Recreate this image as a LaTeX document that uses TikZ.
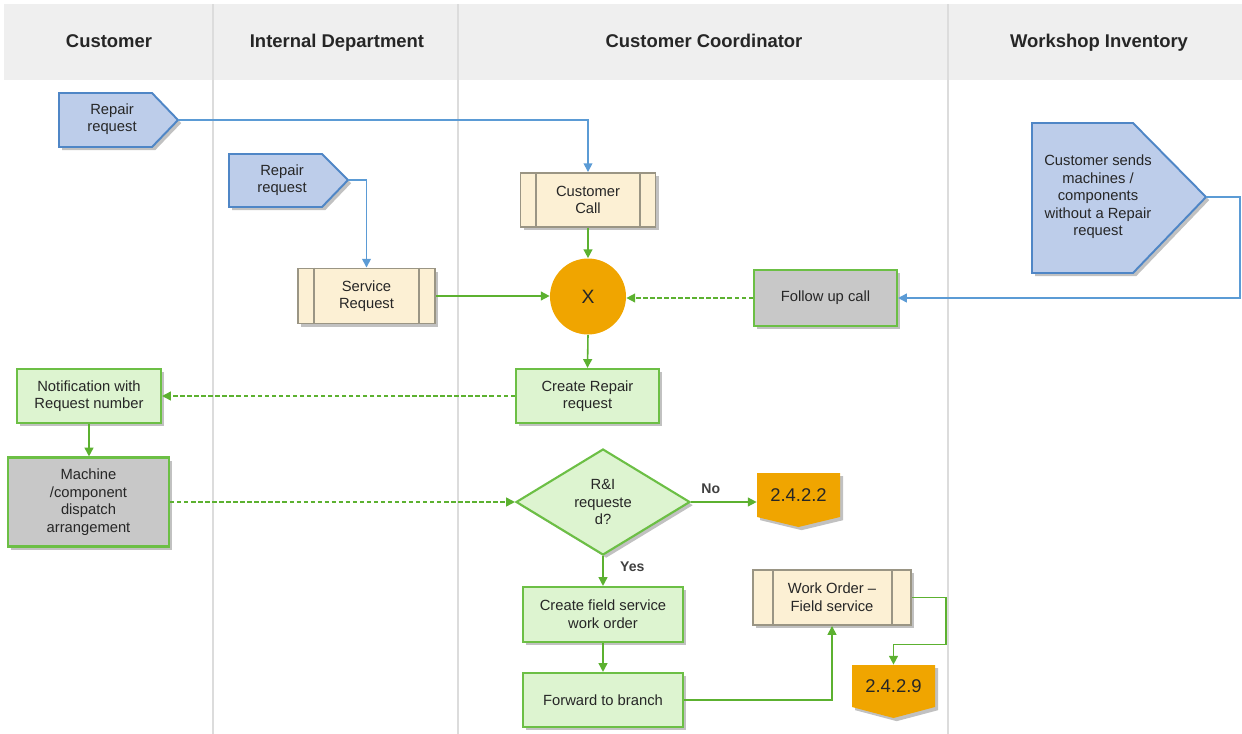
\documentclass[tikz,border=0pt]{standalone}
\usepackage{fontspec}
\setmainfont{Liberation Sans}
\usetikzlibrary{shapes.geometric,arrows.meta,shadows,calc}

\definecolor{hdr}{HTML}{EFEFEF}
\definecolor{lane}{HTML}{DCDCDC}
\definecolor{bfill}{HTML}{BDCDEA}
\definecolor{bline}{HTML}{4F86C6}
\definecolor{barrow}{HTML}{5B9BD5}
\definecolor{yfill}{HTML}{FCF0D4}
\definecolor{yline}{HTML}{9A9584}
\definecolor{gfill}{HTML}{DDF4D0}
\definecolor{gline}{HTML}{6CBF45}
\definecolor{garrow}{HTML}{5CB130}
\definecolor{grayfill}{HTML}{C8C8C8}
\definecolor{orng}{HTML}{F0A500}

\tikzset{
 shd/.style={drop shadow={shadow xshift=1.8pt, shadow yshift=-1.8pt, opacity=0.35, fill=black!70}},
 txt/.style={font=\fontsize{8.4}{10}\selectfont, align=center, text=black!85},
 gbox/.style={txt, draw=gline, line width=1.2pt, fill=gfill, shd, inner sep=0pt},
 graybox/.style={gbox, fill=grayfill},
 ybox/.style={txt, draw=yline, line width=1.1pt, fill=yfill, shd, inner sep=0pt},
 yinner/.style={draw=yline, line width=1.1pt},
 bshape/.style={draw=bline, line width=1.1pt, fill=bfill, shd},
 oshape/.style={fill=orng, shd},
 otxt/.style={font=\fontsize{10.5}{12}\selectfont, text=black!85, inner sep=0pt},
 hd/.style={font=\fontsize{10.5}{12}\selectfont\bfseries, text=black!85, anchor=base},
 barr/.style={draw=barrow, line width=0.9pt, -{Triangle[width=5pt,length=5pt]}},
 garr/.style={draw=garrow, line width=0.9pt, -{Triangle[width=5pt,length=5pt]}},
 gdash/.style={garr, dash pattern=on 2.5pt off 1.5pt},
 lbl/.style={font=\fontsize{8}{10}\selectfont\bfseries, text=black!75},
}

\begin{document}
\begin{tikzpicture}[x=0.02cm, y=-0.02cm]
\useasboundingbox (0,0) rectangle (1242,734);
% header and lanes
\fill[hdr] (4,4) rectangle (1242,80);
\foreach \lx in {213,458,948} \draw[lane, line width=0.8pt] (\lx,4) -- (\lx,734);
\node[hd] (h1) at (109,47) {Customer};
\node[hd] (h2) at (337,47) {Internal Department};
\node[hd] (h3) at (704,47) {Customer Coordinator};
\node[hd] (h4) at (1099,47) {Workshop Inventory};

% pentagon shapes (external inputs)
\draw[bshape] (59,93) -- (152,93) -- (178,120) -- (152,147) -- (59,147) -- cycle;
\node[txt] (rr1) at (112,119) {Repair\\request};
\coordinate (rr1tip) at (178,120);

\draw[bshape] (229,154) -- (322,154) -- (348,180) -- (322,207) -- (229,207) -- cycle;
\node[txt] (rr2) at (282,180) {Repair\\request};
\coordinate (rr2tip) at (348,180);

\draw[bshape] (1032,123) -- (1133,123) -- (1206,197) -- (1133,273) -- (1032,273) -- cycle;
\node[txt] (cs) at (1098,197) {Customer sends\\machines /\\components\\without a Repair\\request};
\coordinate (cstip) at (1206,197);

% sub-process boxes
\node[ybox, minimum width=2.74cm, minimum height=1.10cm] (sr) at (366.5,296) {Service\\Request};
\draw[yinner] ([xshift=0.34cm]sr.north west) -- ([xshift=0.34cm]sr.south west);
\draw[yinner] ([xshift=-0.34cm]sr.north east) -- ([xshift=-0.34cm]sr.south east);

\node[ybox, minimum width=2.7cm, minimum height=1.08cm] (cc) at (588,200) {Customer\\Call};
\draw[yinner] ([xshift=0.32cm]cc.north west) -- ([xshift=0.32cm]cc.south west);
\draw[yinner] ([xshift=-0.32cm]cc.north east) -- ([xshift=-0.32cm]cc.south east);

\node[ybox, minimum width=3.16cm, minimum height=1.1cm] (wo) at (832,597.5) {Work Order --\\Field service};
\draw[yinner] ([xshift=0.41cm]wo.north west) -- ([xshift=0.41cm]wo.south west);
\draw[yinner] ([xshift=-0.39cm]wo.north east) -- ([xshift=-0.39cm]wo.south east);

% gateway
\node[circle, fill=orng, minimum size=1.52cm, inner sep=0pt, font=\fontsize{11}{12}\selectfont, text=black!85] (x) at (588,296.5) {X};

% tasks
\node[graybox, minimum width=2.86cm, minimum height=1.12cm] (fu) at (825.5,298) {Follow up call};
\node[gbox, minimum width=2.86cm, minimum height=1.08cm] (crr) at (587.5,396) {Create Repair\\request};
\node[gbox, minimum width=2.88cm, minimum height=1.08cm] (notif) at (89,396) {Notification with\\Request number};
\node[graybox, minimum width=3.22cm, minimum height=1.78cm] (mach) at (88.5,502) {Machine\\/component\\dispatch\\arrangement};
\node[diamond, draw=gline, line width=1.2pt, fill=gfill, shd, txt, inner sep=0pt, aspect=1.64, minimum width=3.48cm, minimum height=2.12cm] (dia) at (603,502) {R\&I\\requeste\\d?};
\node[gbox, minimum width=3.2cm, minimum height=1.1cm] (cfs) at (603,614.5) {Create field service\\work order};
\node[gbox, minimum width=3.2cm, minimum height=1.08cm] (fwd) at (603,700) {Forward to branch};

% off-page references
\fill[oshape] (757,473) -- (840,473) -- (840,517) -- (798.5,527) -- (757,517) -- cycle;
\node[otxt, minimum width=1.66cm, minimum height=0.88cm] (c222) at (798.5,495) {2.4.2.2};
\fill[oshape] (852,665) -- (935,665) -- (935,707) -- (893.5,718) -- (852,707) -- cycle;
\node[otxt, minimum width=1.66cm, minimum height=0.84cm] (c229) at (893.5,686) {2.4.2.9};

% connectors
\draw[barr] (rr1tip) -| (cc.north);
\draw[barr] (rr2tip) -| (sr.north);
\draw[barr] (cstip) -- ++(34,0) |- (fu.east);
\draw[garr] (cc.south) -- (x.north);
\draw[garr] (sr.east) -- (sr.east -| x.west);
\draw[gdash] (fu.west) -- (fu.west -| x.east);
\draw[garr] (x.south) -- (crr.north);
\draw[gdash] (crr.west) -- (notif.east);
\draw[garr] (notif.south) -- (notif.south |- mach.north);
\draw[gdash] (mach.east) -- (dia.west);
\draw[garr] (dia.east) -- node[lbl, above=1pt, pos=0.3] {No} (dia.east -| c222.west);
\draw[garr] (dia.south) -- node[lbl, right=6pt, pos=0.35] {Yes} (cfs.north);
\draw[garr] (cfs.south) -- (fwd.north);
\draw[garr] (fwd.east) -| (wo.south);
\draw[garr] (wo.east) -- ++(34,0) -- ++(0,47) -| (c229.north);
\end{tikzpicture}
\end{document}
